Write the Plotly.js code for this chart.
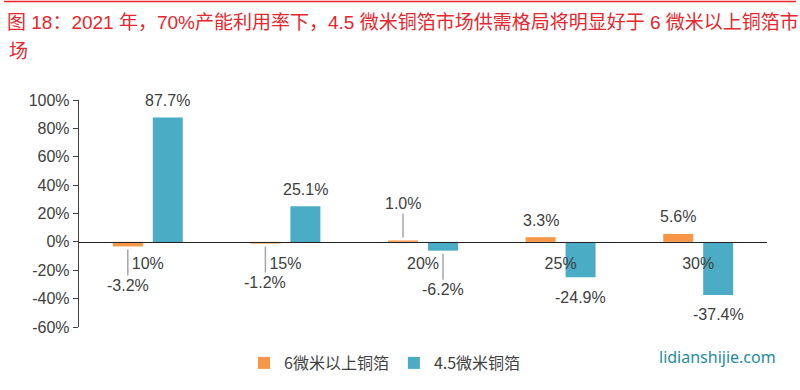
<!DOCTYPE html>
<html>
<head>
<meta charset="utf-8">
<script src="https://cdn.plot.ly/plotly-3.0.1.min.js"></script>
<style>html,body{margin:0;padding:0;background:#fff;}#chart{width:800px;height:390px;}</style>
</head>
<body>
<div id="chart"></div>
<script>
// ---- data ----
const categories = ['10%', '15%', '20%', '25%', '30%'];
const seriesNames = ['6微米以上铜箔', '4.5微米铜箔'];
const values6um = [-3.2, -1.2, 1.0, 3.3, 5.6];
const values45um = [87.7, 25.1, -6.2, -24.9, -37.4];
const yTicks = [-60, -40, -20, 0, 20, 40, 60, 80, 100];
const titleLine1 = '图 18：2021 年，70%产能利用率下，4.5 微米铜箔市场供需格局将明显好于 6 微米以上铜箔市';
const titleLine2 = '场';
const watermark = 'lidianshijie.com';

// ---- style ----
const colors = ['#F79646', '#4BACC6'];
const leader6 = [true, true, true, false, false];
const leader45 = [false, false, true, false, false];
const yRange = [yTicks[0], yTicks[yTicks.length - 1]];
const font = 'Arial, "Liberation Sans", "Noto Sans CJK SC", sans-serif';
const titleFont = 'Arial, "Liberation Sans", "Noto Sans CJK SC", sans-serif';
const textColor = '#404040';
const red = '#E8262D';

const traces = [
  {type: 'bar', name: seriesNames[0], x: categories, y: values6um, marker: {color: colors[0]}, hoverinfo: 'none'},
  {type: 'bar', name: seriesNames[1], x: categories, y: values45um, marker: {color: colors[1]}, hoverinfo: 'none'}
];

const annotations = [];
function addLabels(vals, leaders, shift) {
  vals.forEach((v, i) => {
    const txt = v.toFixed(1) + '%';
    if (leaders[i]) {
      annotations.push({
        x: categories[i], y: v, xref: 'x', yref: 'y', text: txt, xshift: shift,
        showarrow: true, arrowhead: 0, arrowwidth: 1.5, arrowcolor: '#A6A6A6',
        ax: 0, ay: v < 0 ? 39 : -37, standoff: 3,
        font: {family: font, size: 16, color: textColor}
      });
    } else {
      annotations.push({
        x: categories[i], y: v, xref: 'x', yref: 'y', text: txt, xshift: shift,
        showarrow: false, yanchor: 'middle', yshift: v < 0 ? -20 : 17,
        font: {family: font, size: 16, color: textColor}
      });
    }
  });
}
addLabels(values6um, leader6, -20);
addLabels(values45um, leader45, 20);

annotations.push({
  text: titleLine2, xref: 'paper', yref: 'paper', x: (7 - 79) / 688, y: 1 + (100 - 52) / 227,
  xanchor: 'left', yanchor: 'middle', showarrow: false,
  font: {family: titleFont, size: 19, color: red}
});
annotations.push({
  text: watermark, xref: 'paper', yref: 'paper', x: (717 - 79) / 688, y: -(357 - 327) / 227,
  xanchor: 'center', yanchor: 'middle', showarrow: false,
  font: {family: '"Noto Sans", sans-serif', size: 16, color: '#1E8C9E'}
});

const layout = {
  width: 800, height: 390,
  margin: {l: 79, r: 33, t: 100, b: 63},
  paper_bgcolor: '#fff', plot_bgcolor: '#fff',
  showlegend: true,
  title: {
    text: titleLine1, x: 7 / 800, xanchor: 'left', xref: 'container',
    y: 1 - 22 / 390, yanchor: 'middle', yref: 'container',
    font: {family: titleFont, size: 19, color: red}
  },
  barmode: 'group', bargap: 0.419, bargroupgap: 0.25,
  xaxis: {
    type: 'category', anchor: 'free', position: (0 - yRange[0]) / (yRange[1] - yRange[0]),
    showline: true, linecolor: '#222', linewidth: 1.2,
    ticks: 'outside', ticklen: 7, tickcolor: 'rgba(0,0,0,0)',
    tickfont: {family: font, size: 16, color: textColor},
    showgrid: false, zeroline: false, fixedrange: true
  },
  yaxis: {
    range: yRange, tickvals: yTicks, ticktext: yTicks.map(t => t + '%'),
    showline: true, linecolor: '#404040', linewidth: 1.2,
    ticks: 'outside', ticklen: 5, tickcolor: '#404040',
    tickfont: {family: font, size: 16, color: textColor},
    showgrid: false, zeroline: false, fixedrange: true
  },
  legend: {
    orientation: 'h', xref: 'container', yref: 'container',
    x: 385 / 800, xanchor: 'center', y: 1 - 363 / 390, yanchor: 'middle',
    font: {family: '"Noto Sans CJK SC", sans-serif', size: 16, color: textColor},
    itemwidth: 30
  },
  shapes: [{
    type: 'line', xref: 'paper', yref: 'paper',
    x0: (4 - 79) / 688, x1: (796 - 79) / 688, y0: 1 + (100 - 1.5) / 227, y1: 1 + (100 - 1.5) / 227,
    line: {color: red, width: 1.5}
  }],
  annotations: annotations
};

Plotly.newPlot('chart', traces, layout, {displayModeBar: false, staticPlot: true});
</script>
</body>
</html>
